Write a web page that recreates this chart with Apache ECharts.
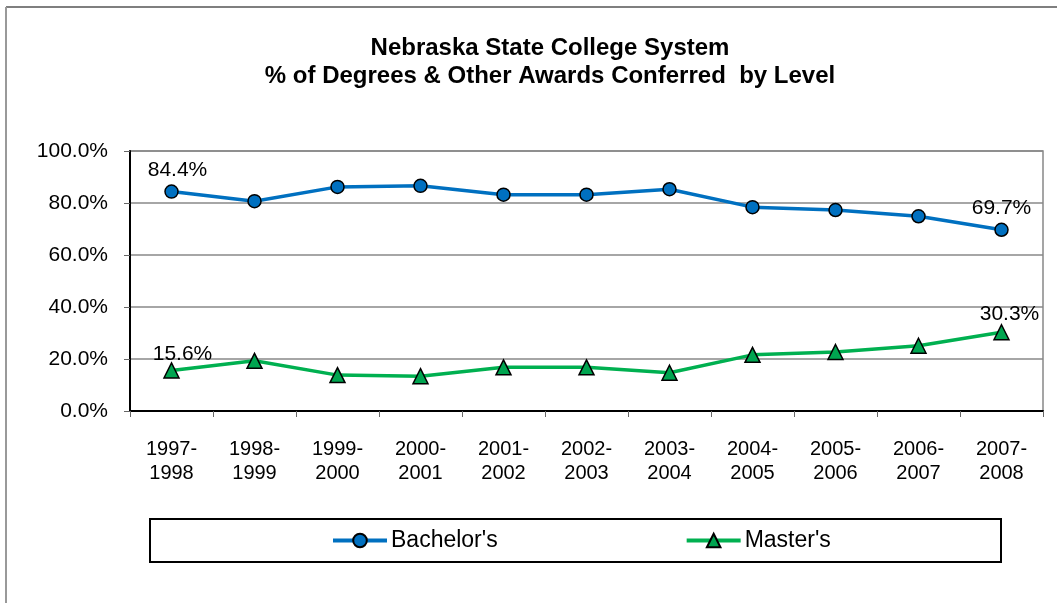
<!DOCTYPE html>
<html>
<head>
<meta charset="utf-8">
<script src="https://cdn.jsdelivr.net/npm/echarts@6/dist/echarts.min.js"></script>
<style>
html,body{margin:0;padding:0;background:#fff;}
#c{width:1057px;height:603px;}
</style>
</head>
<body>
<div id="c"></div>
<script>
const titleText = "Nebraska State College System\n% of Degrees & Other Awards Conferred  by Level";
const categories = ["1997-\n1998","1998-\n1999","1999-\n2000","2000-\n2001","2001-\n2002","2002-\n2003","2003-\n2004","2004-\n2005","2005-\n2006","2006-\n2007","2007-\n2008"];
const bachelors = [84.4, 80.7, 86.2, 86.6, 83.2, 83.2, 85.3, 78.4, 77.3, 74.9, 69.7];
const masters = [15.6, 19.3, 13.8, 13.4, 16.8, 16.8, 14.7, 21.6, 22.7, 25.1, 30.3];
const yTicks = [0, 20, 40, 60, 80, 100];

const FONT = "Arial, 'Liberation Sans', sans-serif";

function withEndLabels(arr, firstOffset, lastOffset) {
  return arr.map((v, i) => {
    const show = (i === 0 || i === arr.length - 1);
    return {
      value: v,
      label: {
        show: show,
        offset: i === 0 ? firstOffset : lastOffset
      }
    };
  });
}

const chart = echarts.init(document.getElementById('c'), null, {renderer: 'canvas'});
chart.setOption({
  animation: false,
  backgroundColor: '#fff',
  textStyle: {fontFamily: FONT},
  title: {
    text: titleText,
    left: 545,
    textAlign: 'center',
    top: 29,
    textStyle: {fontFamily: FONT, fontSize: 24, fontWeight: 'bold', color: '#000', lineHeight: 28}
  },
  graphic: [
    {type: 'line', shape: {x1: 6, y1: 7, x2: 1057, y2: 7}, style: {stroke: '#555', lineWidth: 1.5}},
    {type: 'line', shape: {x1: 6, y1: 7, x2: 6, y2: 603}, style: {stroke: '#999', lineWidth: 2}},
    {type: 'rect', shape: {x: 150, y: 519, width: 851, height: 43}, style: {fill: 'none', stroke: '#000', lineWidth: 2}}
  ],
  legend: {
    left: 331,
    top: 529,
    padding: 0,
    itemGap: 187,
    itemWidth: 54,
    itemHeight: 17,
    lineStyle: {width: 4},
    textStyle: {fontFamily: FONT, fontSize: 23, color: '#000', padding: [0, 0, 0, -1]},
    data: ["Bachelor's", "Master's"]
  },
  grid: {
    left: 130, right: 14, top: 151, bottom: 192,
    show: true, borderColor: '#888', borderWidth: 1.5, backgroundColor: '#fff'
  },
  xAxis: {
    type: 'category',
    data: categories,
    boundaryGap: true,
    axisLine: {lineStyle: {color: '#000', width: 2}},
    axisTick: {show: true, length: 6, lineStyle: {color: '#666', width: 1}},
    axisLabel: {fontFamily: FONT, fontSize: 20, lineHeight: 24, color: '#000', margin: 26, interval: 0}
  },
  yAxis: {
    type: 'value',
    min: yTicks[0],
    max: yTicks[yTicks.length - 1],
    interval: 20,
    axisLine: {show: true, lineStyle: {color: '#000', width: 2}},
    axisTick: {show: true, length: 6, lineStyle: {color: '#666', width: 1}},
    axisLabel: {fontFamily: FONT, fontSize: 21, color: '#000', margin: 22, formatter: v => v.toFixed(1) + '%'},
    splitLine: {lineStyle: {color: '#888', width: 1.5}}
  },
  series: [
    {
      name: "Bachelor's",
      type: 'line',
      data: withEndLabels(bachelors, [6, 0], [0, 0]),
      symbol: 'circle',
      symbolSize: 13,
      lineStyle: {color: '#0070C0', width: 3.5},
      itemStyle: {color: '#0070C0', borderColor: '#000', borderWidth: 1.5},
      label: {position: 'top', distance: 4, fontFamily: FONT, fontSize: 21, color: '#000', formatter: p => p.value.toFixed(1) + '%'},
      z: 3
    },
    {
      name: "Master's",
      type: 'line',
      data: withEndLabels(masters, [11, 2], [8, 0]),
      symbol: 'triangle',
      symbolSize: 15,
      lineStyle: {color: '#00B050', width: 3.5},
      itemStyle: {color: '#00A550', borderColor: '#000', borderWidth: 1.5},
      label: {position: 'top', distance: -1, fontFamily: FONT, fontSize: 21, color: '#000', formatter: p => p.value.toFixed(1) + '%'},
      z: 3
    }
  ]
});
</script>
</body>
</html>
